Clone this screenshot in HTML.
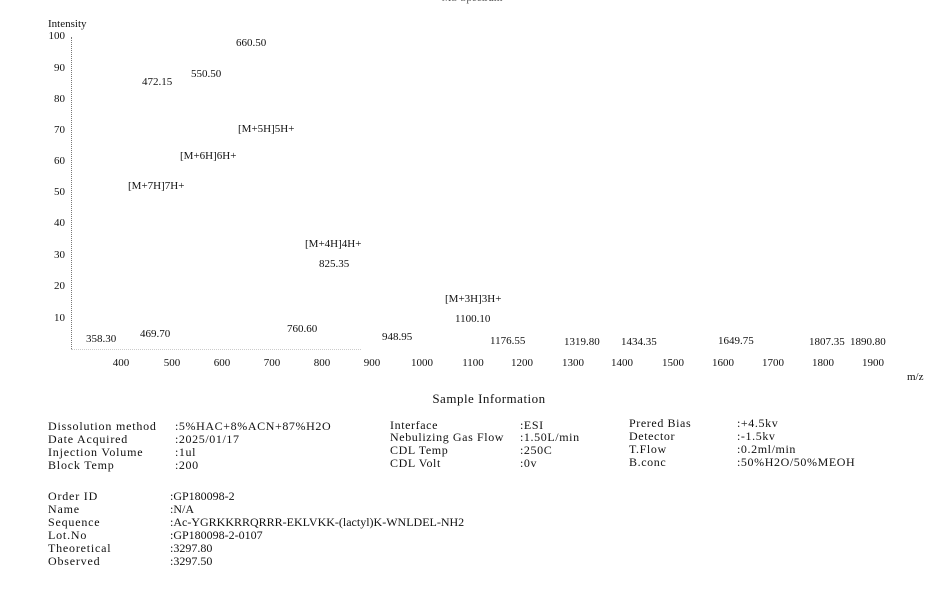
<!DOCTYPE html>
<html><head><meta charset="utf-8"><style>
body{margin:0;width:942px;height:597px;background:#fff;position:relative;overflow:hidden;font-family:"Liberation Serif",serif;color:#111}
.t{position:absolute;white-space:nowrap;font-size:11px;line-height:11px}
.c{transform:translateX(-50%)}
.r{transform:translateX(-100%)}
.i{position:absolute;white-space:nowrap;font-size:12px;line-height:12px;letter-spacing:.6px}
.n{letter-spacing:0}
</style></head><body>
<div class="t c" style="left:472px;top:-7px;color:#555">MS Spectrum</div>
<div class="t" style="left:48px;top:19px">Intensity</div>
<div style="position:absolute;left:71px;top:37px;height:312px;border-left:1px dotted #777"></div>
<div style="position:absolute;left:71px;top:349px;width:290px;border-top:1px dotted #ccc"></div>
<div class="t r" style="left:65px;top:31px">100</div>
<div class="t r" style="left:65px;top:63px">90</div>
<div class="t r" style="left:65px;top:94px">80</div>
<div class="t r" style="left:65px;top:125px">70</div>
<div class="t r" style="left:65px;top:156px">60</div>
<div class="t r" style="left:65px;top:187px">50</div>
<div class="t r" style="left:65px;top:218px">40</div>
<div class="t r" style="left:65px;top:250px">30</div>
<div class="t r" style="left:65px;top:281px">20</div>
<div class="t r" style="left:65px;top:313px">10</div>
<div class="t c" style="left:121px;top:358px">400</div>
<div class="t c" style="left:172px;top:358px">500</div>
<div class="t c" style="left:222px;top:358px">600</div>
<div class="t c" style="left:272px;top:358px">700</div>
<div class="t c" style="left:322px;top:358px">800</div>
<div class="t c" style="left:372px;top:358px">900</div>
<div class="t c" style="left:422px;top:358px">1000</div>
<div class="t c" style="left:473px;top:358px">1100</div>
<div class="t c" style="left:522px;top:358px">1200</div>
<div class="t c" style="left:573px;top:358px">1300</div>
<div class="t c" style="left:622px;top:358px">1400</div>
<div class="t c" style="left:673px;top:358px">1500</div>
<div class="t c" style="left:723px;top:358px">1600</div>
<div class="t c" style="left:773px;top:358px">1700</div>
<div class="t c" style="left:823px;top:358px">1800</div>
<div class="t c" style="left:873px;top:358px">1900</div>
<div class="t" style="left:907px;top:372px">m/z</div>
<div class="t" style="left:236px;top:38px">660.50</div>
<div class="t" style="left:191px;top:69px">550.50</div>
<div class="t" style="left:142px;top:77px">472.15</div>
<div class="t" style="left:238px;top:124px">[M+5H]5H+</div>
<div class="t" style="left:180px;top:151px">[M+6H]6H+</div>
<div class="t" style="left:128px;top:181px">[M+7H]7H+</div>
<div class="t" style="left:305px;top:239px">[M+4H]4H+</div>
<div class="t" style="left:319px;top:259px">825.35</div>
<div class="t" style="left:445px;top:294px">[M+3H]3H+</div>
<div class="t" style="left:455px;top:314px">1100.10</div>
<div class="t" style="left:86px;top:334px">358.30</div>
<div class="t" style="left:140px;top:329px">469.70</div>
<div class="t" style="left:287px;top:324px">760.60</div>
<div class="t" style="left:382px;top:332px">948.95</div>
<div class="t" style="left:490px;top:336px">1176.55</div>
<div class="t" style="left:564px;top:337px">1319.80</div>
<div class="t" style="left:621px;top:337px">1434.35</div>
<div class="t" style="left:718px;top:336px">1649.75</div>
<div class="t" style="left:809px;top:337px">1807.35</div>
<div class="t" style="left:850px;top:337px">1890.80</div>
<div class="i c" style="left:489px;top:393px;font-size:13px;letter-spacing:.5px">Sample Information</div>
<div class="i" style="left:48px;top:420px;letter-spacing:.8px">Dissolution method</div>
<div class="i" style="left:48px;top:433px;letter-spacing:.8px">Date Acquired</div>
<div class="i" style="left:48px;top:446px;letter-spacing:.8px">Injection Volume</div>
<div class="i" style="left:48px;top:459px;letter-spacing:.8px">Block Temp</div>
<div class="i" style="left:175px;top:420px">:5%HAC+8%ACN+87%H2O</div>
<div class="i" style="left:175px;top:433px">:2025/01/17</div>
<div class="i" style="left:175px;top:446px">:1ul</div>
<div class="i" style="left:175px;top:459px">:200</div>
<div class="i" style="left:390px;top:419px">Interface</div>
<div class="i" style="left:390px;top:431px">Nebulizing Gas Flow</div>
<div class="i" style="left:390px;top:444px">CDL Temp</div>
<div class="i" style="left:390px;top:457px">CDL Volt</div>
<div class="i" style="left:520px;top:419px">:ESI</div>
<div class="i" style="left:520px;top:431px">:1.50L/min</div>
<div class="i" style="left:520px;top:444px">:250C</div>
<div class="i" style="left:520px;top:457px">:0v</div>
<div class="i" style="left:629px;top:417px">Prered Bias</div>
<div class="i" style="left:629px;top:430px">Detector</div>
<div class="i" style="left:629px;top:443px">T.Flow</div>
<div class="i" style="left:629px;top:456px">B.conc</div>
<div class="i" style="left:737px;top:417px">:+4.5kv</div>
<div class="i" style="left:737px;top:430px">:-1.5kv</div>
<div class="i" style="left:737px;top:443px">:0.2ml/min</div>
<div class="i" style="left:737px;top:456px">:50%H2O/50%MEOH</div>
<div class="i" style="left:48px;top:490px;letter-spacing:.8px">Order ID</div>
<div class="i" style="left:48px;top:503px;letter-spacing:.8px">Name</div>
<div class="i" style="left:48px;top:516px;letter-spacing:.8px">Sequence</div>
<div class="i" style="left:48px;top:529px;letter-spacing:.8px">Lot.No</div>
<div class="i" style="left:48px;top:542px;letter-spacing:.8px">Theoretical</div>
<div class="i" style="left:48px;top:555px;letter-spacing:.8px">Observed</div>
<div class="i n" style="left:170px;top:490px">:GP180098-2</div>
<div class="i n" style="left:170px;top:503px">:N/A</div>
<div class="i n" style="left:170px;top:516px">:Ac-YGRKKRRQRRR-EKLVKK-(lactyl)K-WNLDEL-NH2</div>
<div class="i n" style="left:170px;top:529px">:GP180098-2-0107</div>
<div class="i n" style="left:170px;top:542px">:3297.80</div>
<div class="i n" style="left:170px;top:555px">:3297.50</div>
</body></html>
